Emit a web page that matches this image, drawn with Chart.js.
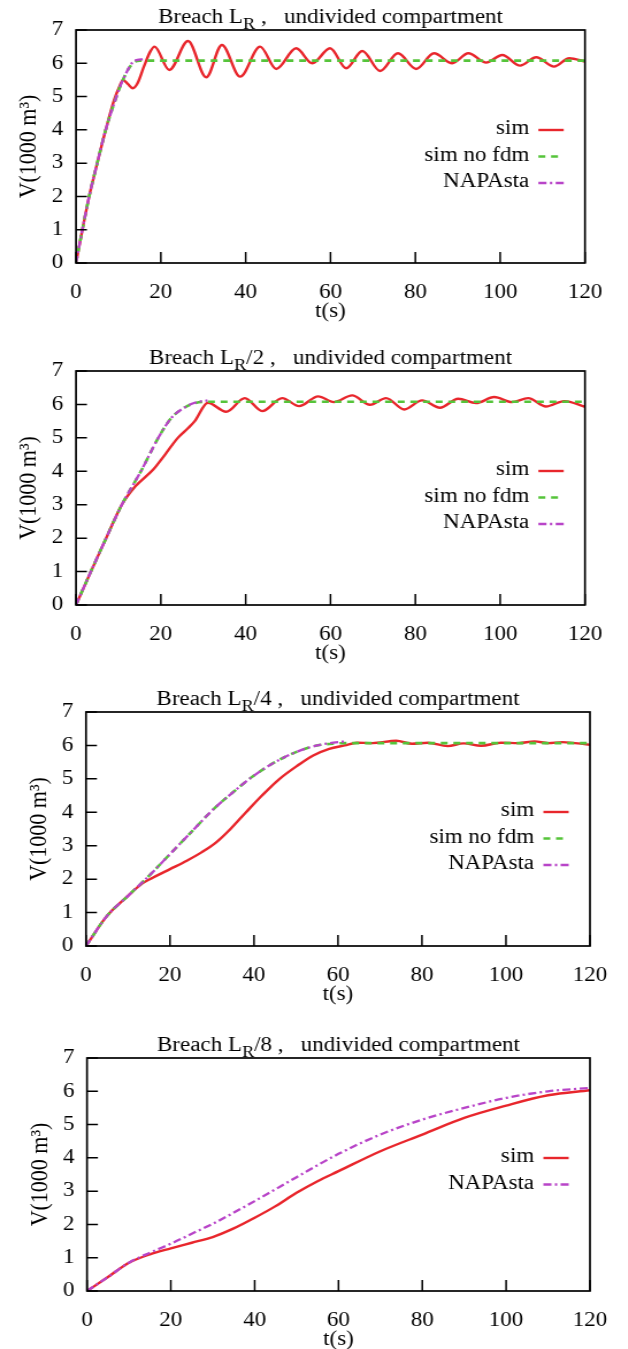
<!DOCTYPE html>
<html><head><meta charset="utf-8">
<script src="https://cdn.jsdelivr.net/npm/chart.js@4.4.1/dist/chart.umd.min.js"></script>
<style>
html,body{margin:0;padding:0;background:#fff;width:628px;height:1349px;overflow:hidden;position:relative;}
.wrap{position:absolute;left:0;transform-origin:0 0;transform:scaleX(1.15);}
canvas{display:block;}
</style></head><body>
<div class="wrap" id="w1"><canvas id="c1"></canvas></div>
<div class="wrap" id="w2"><canvas id="c2"></canvas></div>
<div class="wrap" id="w3"><canvas id="c3"></canvas></div>
<div class="wrap" id="w4"><canvas id="c4"></canvas></div>
<script>
// ---------- data ----------
const xTicks = [0, 20, 40, 60, 80, 100, 120];
const yTicks = [0, 1, 2, 3, 4, 5, 6, 7];
const seriesNames = ['sim', 'sim no fdm', 'NAPAsta'];

// Panel 1: Breach L_R
const p1SimT = [0,1.5,3.1,5.0,7,9,10.4,11.1,12.2,13.4,14.5,16,17.5,18.5,22,26.4,30.7,34.4,38.7,43.4,47.2,51.9,55.7,59.9,63.7,67.5,71.7,75.9,80.2,84.4,88.7,92.5,96.7,100.5,104.7,108.5,112.7,116.3,120];
const p1SimV = [0,1,2,3,4,4.9,5.35,5.5,5.38,5.25,5.4,5.9,6.35,6.5,5.8,6.67,5.58,6.55,5.6,6.5,5.83,6.45,6.0,6.45,5.85,6.37,5.77,6.3,5.83,6.3,6.0,6.3,6.02,6.25,5.93,6.18,5.9,6.15,6.05];
const p1NoT  = [0,1.5,3.1,5.0,7,9,10.4,12,13.4,15,120];
const p1NoV  = [0,1,2,3,4,4.8,5.3,5.75,6.0,6.08,6.08];
const p1NapT = [0,1.5,3.1,5.0,7,9,10.4,12,13.4,14.5,15.8];
const p1NapV = [0,1,2,3,4,4.8,5.3,5.75,6.04,6.1,6.12];

// Panel 2: Breach L_R/2
const p2SimT = [0,3.5,7.1,10.8,14,18.2,21,24,26.5,28,31.1,35.4,39.8,43.9,48.6,52.6,57.1,60.8,65.1,69.3,73.1,77.4,81.6,85.8,90.1,94.3,98.6,102.8,106.6,110.8,115.1,120];
const p2SimV = [0,1,2,3,3.55,4.05,4.5,5,5.3,5.5,6.05,5.78,6.19,5.8,6.19,5.95,6.24,6.07,6.27,5.99,6.19,5.85,6.12,5.9,6.17,6.04,6.22,6.07,6.19,5.94,6.1,5.93];
const p2NoT  = [0,3.5,7.1,10.8,15.3,19.4,22.5,25.5,28,31,120];
const p2NoV  = [0,1,2,3,4,5,5.6,5.9,6.04,6.08,6.08];
const p2NapT = [0,3.5,7.1,10.8,15.3,19.4,22.5,25.5,28,31];
const p2NapV = [0,1,2,3,4,5,5.6,5.9,6.05,6.12];

// Panel 3: Breach L_R/4
const p3SimT = [0,5,10,13.5,16,20,24,27.5,31,34.4,38.1,41.9,46.1,50.4,54.1,57.9,61.6,64.5,68.2,73.9,77.6,81.4,86.1,89.9,94.1,98.8,103,106.8,110.1,113.4,120];
const p3SimV = [0,0.9,1.5,1.88,2.05,2.3,2.55,2.8,3.1,3.5,4.0,4.5,5.0,5.4,5.7,5.9,6.0,6.08,6.07,6.14,6.05,6.08,5.98,6.06,5.99,6.08,6.07,6.12,6.07,6.1,6.02];
const p3NoT  = [0,5,10,15,20,25,30,35,40,45,50,55,60,62,120];
const p3NoV  = [0,0.9,1.5,2.1,2.75,3.4,4.05,4.6,5.1,5.5,5.8,6.0,6.06,6.07,6.07];
const p3NapT = [0,5,10,15,20,25,30,35,40,45,50,55,60,62];
const p3NapV = [0,0.9,1.5,2.1,2.75,3.4,4.05,4.6,5.1,5.5,5.8,6.0,6.1,6.12];

// Panel 4: Breach L_R/8
const p4SimT = [0,5,10,15,20,25,30,35,40,45,50,55,60,70,80,90,100,110,120];
const p4SimV = [0,0.42,0.85,1.1,1.28,1.45,1.62,1.88,2.2,2.55,2.95,3.3,3.6,4.2,4.7,5.2,5.57,5.88,6.03];
const p4NapT = [0,5,10,15,20,25,30,40,50,60,70,80,90,100,110,120];
const p4NapV = [0,0.42,0.85,1.15,1.42,1.72,2.02,2.7,3.42,4.12,4.7,5.15,5.5,5.8,6.0,6.1];

// ---------- styles / layout ----------
const SX = 1.15;               // horizontal stretch of the original figure
const W = 546;                 // internal canvas width (628 / 1.15)
const FONT = '"Liberation Serif", "Times New Roman", serif';
const seriesStyle = [
  {color:'#e8262c', width:2.4, dash:[]},
  {color:'#55c43a', width:2.6, dash:[6,5]},
  {color:'#b844c8', width:2.3, dash:[7,3,2,3]}
];

const panels = [
  {id:1, top:30,   bottom:263,  left:76, right:585, sub:'R', rest:' ,   undivided compartment',
   sets:[[p1SimT,p1SimV,0],[p1NoT,p1NoV,1],[p1NapT,p1NapV,2]]},
  {id:2, top:371,  bottom:605,  left:76, right:585, sub:'R', rest:'/2 ,   undivided compartment',
   sets:[[p2SimT,p2SimV,0],[p2NoT,p2NoV,1],[p2NapT,p2NapV,2]]},
  {id:3, top:712,  bottom:946,  left:86, right:596, sub:'R', rest:'/4 ,   undivided compartment',
   sets:[[p3SimT,p3SimV,0],[p3NoT,p3NoV,1],[p3NapT,p3NapV,2]]},
  {id:4, top:1058, bottom:1291, left:87, right:597, sub:'R', rest:'/8 ,   undivided compartment',
   sets:[[p4SimT,p4SimV,0],[p4NapT,p4NapV,2]]}
];

const framePlugin = {
  id:'frame',
  afterDraw(chart){
    const {ctx, chartArea:a, scales} = chart;
    ctx.save();
    ctx.strokeStyle = '#000';
    ctx.lineWidth = 1.7;
    ctx.setLineDash([]);
    ctx.strokeRect(a.left, a.top, a.right - a.left, a.bottom - a.top);
    ctx.lineWidth = 1.5;
    ctx.beginPath();
    scales.x.ticks.forEach(t => {
      const px = scales.x.getPixelForValue(t.value);
      ctx.moveTo(px, a.bottom); ctx.lineTo(px, a.bottom - 11);
    });
    scales.y.ticks.forEach(t => {
      const py = scales.y.getPixelForValue(t.value);
      ctx.moveTo(a.left, py); ctx.lineTo(a.left + 9.5, py);
    });
    ctx.stroke();
    ctx.restore();
  }
};

const legendPlugin = {
  id:'keyBox',
  afterDraw(chart){
    const {ctx, chartArea:a} = chart;
    ctx.save();
    ctx.font = '20px ' + FONT;
    ctx.fillStyle = '#000';
    ctx.textAlign = 'right';
    ctx.textBaseline = 'middle';
    chart.data.datasets.forEach((d, i) => {
      const y = a.top + 99 + i * 26.5;
      ctx.fillText(d.label, a.right - 48.5, y);
      ctx.strokeStyle = d.borderColor;
      ctx.lineWidth = d.borderWidth;
      ctx.setLineDash(d.borderDash || []);
      ctx.beginPath();
      ctx.moveTo(a.right - 40.5, y + 1); ctx.lineTo(a.right - 18.5, y + 1);
      ctx.stroke();
    });
    ctx.restore();
  }
};

const titlePlugin = {
  id:'subTitle',
  afterDraw(chart){
    const p = chart.options.plugins.subTitle;
    const {ctx, chartArea:a} = chart;
    ctx.save();
    ctx.fillStyle = '#000';
    ctx.textBaseline = 'alphabetic';
    ctx.textAlign = 'left';
    const big = '20px ' + FONT, small = '16px ' + FONT;
    ctx.font = big; const w1 = ctx.measureText(p.main).width;
    ctx.font = small; const w2 = ctx.measureText(p.sub).width;
    ctx.font = big; const w3 = ctx.measureText(p.rest).width;
    let x = (a.left + a.right) / 2 - (w1 + w2 + w3) / 2;
    const base = a.top - 7;
    ctx.font = big; ctx.fillText(p.main, x, base); x += w1;
    ctx.font = small; ctx.fillText(p.sub, x, base + 6); x += w2;
    ctx.font = big; ctx.fillText(p.rest, x, base);
    ctx.restore();
  }
};

function makePanel(p){
  const canvasTop = p.top - 30;
  const H = (p.bottom - p.top) + 30 + 70;
  const wrap = document.getElementById('w' + p.id);
  wrap.style.top = canvasTop + 'px';
  const cv = document.getElementById('c' + p.id);
  cv.width = W; cv.height = H;
  cv.style.width = W + 'px'; cv.style.height = H + 'px';
  const R = p.right / SX, L = p.left / SX;
  const yTitlePad = (p.left - 47) / SX - 13.2;

  const datasets = p.sets.map(s => {
    const st = seriesStyle[s[2]];
    return {
      label: seriesNames[s[2]],
      data: s[0].map((t, k) => ({x: t, y: s[1][k]})),
      borderColor: st.color,
      borderWidth: st.width,
      borderDash: st.dash,
      pointRadius: 0,
      fill: false,
      cubicInterpolationMode: 'monotone',
      order: 3 - s[2]
    };
  });

  new Chart(cv, {
    type: 'line',
    data: {datasets},
    options: {
      responsive: false, animation: false, devicePixelRatio: 1,
      layout: {padding: {top: 30, right: W - R, left: 0, bottom: 0}},
      plugins: {
        legend: {display: false}, tooltip: {enabled: false}, title: {display: false},
        subTitle: {main: 'Breach L', sub: p.sub, rest: p.rest}
      },
      scales: {
        x: {
          type: 'linear', min: 0, max: 120,
          afterBuildTicks: s => { s.ticks = xTicks.map(v => ({value: v})); },
          afterFit: s => { s.height = 70; },
          grid: {drawOnChartArea: false, drawTicks: false, display: false},
          border: {display: false},
          ticks: {font: {family: FONT, size: 20}, color: '#000', padding: 18, maxRotation: 0, autoSkip: false},
          title: {display: true, text: 't(s)', color: '#000', font: {family: FONT, size: 20}, padding: {top: 0, bottom: 9}}
        },
        y: {
          type: 'linear', min: 0, max: 7,
          afterBuildTicks: s => { s.ticks = yTicks.map(v => ({value: v})); },
          afterFit: s => { s.width = L; },
          grid: {drawOnChartArea: false, drawTicks: false, display: false},
          border: {display: false},
          ticks: {font: {family: FONT, size: 20}, color: '#000', padding: 11},
          title: {display: true, text: 'V(1000 m³)', color: '#000', font: {family: FONT, size: 22}, padding: {top: yTitlePad, bottom: 0}}
        }
      }
    },
    plugins: [framePlugin, legendPlugin, titlePlugin]
  });
}

panels.forEach(makePanel);
</script>
</body></html>
